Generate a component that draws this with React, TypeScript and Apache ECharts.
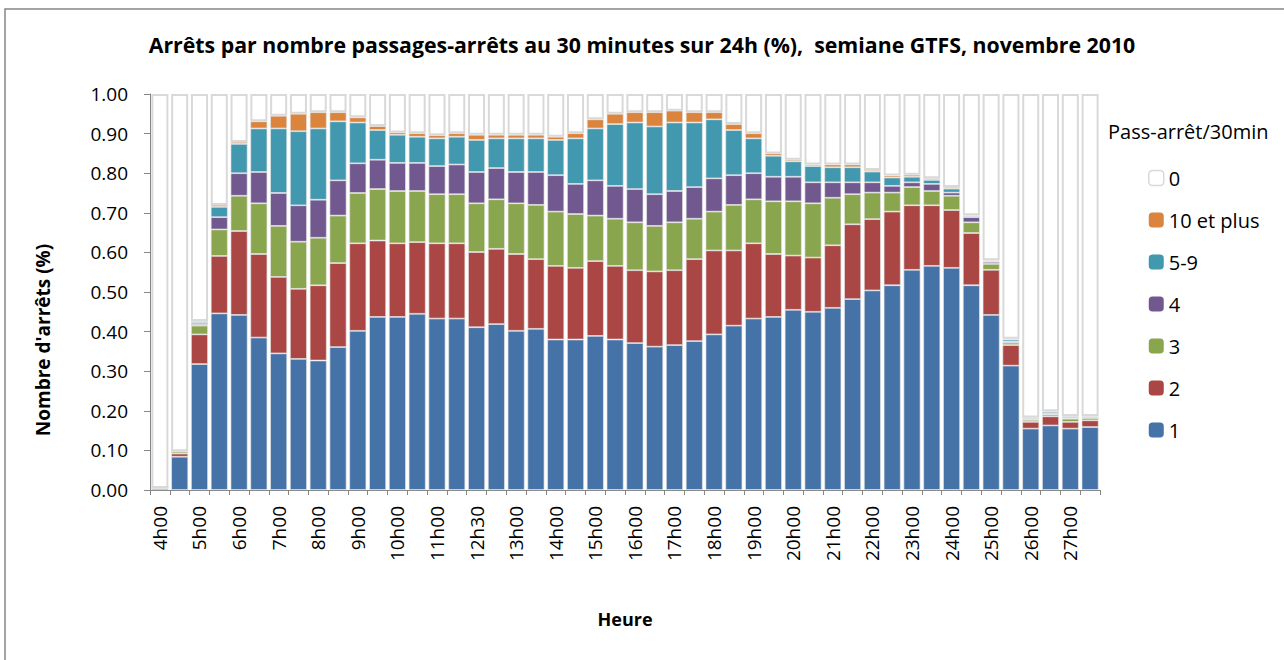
import React, { useEffect, useRef } from "react";
import * as echarts from "echarts";

const categories = [
  "4h00", "4h30", "5h00", "5h30", "6h00", "6h30", "7h00", "7h30", "8h00", "8h30",
  "9h00", "9h30", "10h00", "10h30", "11h00", "11h30", "12h30", "12h30", "13h00", "13h30",
  "14h00", "14h30", "15h00", "15h30", "16h00", "16h30", "17h00", "17h30", "18h00", "18h30",
  "19h00", "19h30", "20h00", "20h30", "21h00", "21h30", "22h00", "22h30", "23h00", "23h30",
  "24h00", "24h30", "25h00", "25h30", "26h00", "26h30", "27h00", "27h30",
];

const one = [0.005, 0.084, 0.318, 0.446, 0.442, 0.385, 0.345, 0.331, 0.327, 0.361,
  0.402, 0.437, 0.437, 0.445, 0.433, 0.433, 0.411, 0.419, 0.402, 0.407,
  0.380, 0.380, 0.389, 0.380, 0.371, 0.362, 0.366, 0.376, 0.393, 0.415,
  0.433, 0.437, 0.455, 0.450, 0.460, 0.482, 0.504, 0.517, 0.556, 0.566,
  0.561, 0.517, 0.442, 0.314, 0.155, 0.163, 0.155, 0.159];

const two = [0, 0.008, 0.075, 0.145, 0.212, 0.211, 0.193, 0.177, 0.190, 0.212,
  0.221, 0.193, 0.186, 0.181, 0.190, 0.190, 0.190, 0.190, 0.194, 0.176,
  0.186, 0.181, 0.189, 0.186, 0.184, 0.190, 0.189, 0.207, 0.212, 0.190,
  0.190, 0.159, 0.137, 0.137, 0.158, 0.189, 0.180, 0.186, 0.163, 0.153,
  0.146, 0.132, 0.114, 0.052, 0.017, 0.023, 0.017, 0.017];

const three = [0, 0.005, 0.022, 0.067, 0.089, 0.128, 0.129, 0.119, 0.120, 0.120,
  0.127, 0.130, 0.132, 0.129, 0.124, 0.124, 0.123, 0.125, 0.128, 0.137,
  0.137, 0.136, 0.115, 0.119, 0.121, 0.115, 0.121, 0.102, 0.098, 0.115,
  0.111, 0.133, 0.137, 0.137, 0.120, 0.076, 0.067, 0.048, 0.046, 0.036,
  0.036, 0.027, 0.015, 0.006, 0.005, 0.005, 0.008, 0.006];

const four = [0, 0, 0.004, 0.031, 0.057, 0.079, 0.083, 0.092, 0.096, 0.089,
  0.075, 0.074, 0.071, 0.071, 0.071, 0.075, 0.079, 0.079, 0.079, 0.083,
  0.092, 0.076, 0.089, 0.083, 0.084, 0.080, 0.079, 0.080, 0.084, 0.075,
  0.066, 0.062, 0.062, 0.053, 0.039, 0.030, 0.026, 0.017, 0.012, 0.018,
  0.008, 0.013, 0.005, 0.003, 0.002, 0.003, 0.002, 0.001];

const fiveNine = [0, 0.001, 0.005, 0.026, 0.074, 0.110, 0.163, 0.187, 0.180, 0.149,
  0.103, 0.075, 0.071, 0.066, 0.070, 0.070, 0.081, 0.075, 0.085, 0.085,
  0.089, 0.115, 0.131, 0.156, 0.168, 0.171, 0.173, 0.163, 0.149, 0.114,
  0.088, 0.053, 0.039, 0.041, 0.038, 0.038, 0.027, 0.021, 0.014, 0.010,
  0.010, 0.003, 0.002, 0.005, 0.003, 0.004, 0.004, 0.003];

const tenPlus = [0, 0, 0.003, 0.005, 0.005, 0.018, 0.032, 0.044, 0.041, 0.023,
  0.013, 0.010, 0.006, 0.009, 0.008, 0.009, 0.013, 0.009, 0.009, 0.009,
  0.008, 0.013, 0.023, 0.026, 0.026, 0.036, 0.030, 0.026, 0.018, 0.015,
  0.013, 0.006, 0.004, 0.004, 0.007, 0.007, 0.004, 0.005, 0.005, 0.004,
  0.004, 0.002, 0.002, 0.002, 0.001, 0.001, 0.001, 0.001];

const zero = [0.995, 0.902, 0.573, 0.280, 0.121, 0.069, 0.055, 0.050, 0.046, 0.046,
  0.059, 0.081, 0.097, 0.099, 0.104, 0.099, 0.103, 0.103, 0.103, 0.103,
  0.108, 0.099, 0.064, 0.050, 0.046, 0.046, 0.042, 0.046, 0.046, 0.076,
  0.099, 0.150, 0.166, 0.178, 0.178, 0.178, 0.192, 0.206, 0.204, 0.213,
  0.235, 0.306, 0.420, 0.618, 0.817, 0.801, 0.813, 0.813];

const seriesNames = ["1", "2", "3", "4", "5-9", "10 et plus", "0"];
const seriesColors = ["#4572A7", "#AA4643", "#89A54E", "#71588F", "#4198AF", "#DB843D", "#FFFFFF"];
const seriesData = [one, two, three, four, fiveNine, tenPlus, zero];
const legendOrder = ["0", "10 et plus", "5-9", "4", "3", "2", "1"];

const TITLE = "Arrêts par nombre passages-arrêts au 30 minutes sur 24h (%),  semiane GTFS, novembre 2010";
const FONT = "'Open Sans', 'DejaVu Sans', sans-serif";

export default function App() {
  const ref = useRef<HTMLDivElement>(null);
  useEffect(() => {
    if (!ref.current) return;
    const chart = echarts.init(ref.current, null, { renderer: "svg" });
    const series = seriesNames.map((name, i) => ({
      name,
      type: "bar",
      stack: "total",
      data: seriesData[i],
      barCategoryGap: "14%",
      itemStyle: name === "0"
        ? { color: "#FFFFFF", borderColor: "#d9d9d9", borderWidth: 2 }
        : { color: seriesColors[i], borderColor: "rgba(230,230,230,0.8)", borderWidth: 0.8 },
      emphasis: { disabled: true },
    }));
    chart.setOption({
      animation: false,
      backgroundColor: "#ffffff",
      title: {
        text: TITLE,
        left: "center",
        top: 29,
        textStyle: { fontFamily: FONT, fontWeight: "bold", fontSize: 21.3, color: "#000" },
      },
      legend: {
        orient: "vertical",
        left: 1143,
        top: 163,
        itemWidth: 15,
        itemHeight: 15,
        itemGap: 22,
        selectedMode: false,
        textStyle: { fontFamily: FONT, fontSize: 20, color: "#000" },
        data: legendOrder.map((n) => (n === "0"
          ? { name: n, itemStyle: { borderColor: "#d9d9d9", borderWidth: 1.5 } }
          : { name: n, itemStyle: { borderWidth: 0 } })),
      },
      grid: { left: 150, right: 184, top: 94, bottom: 170, containLabel: false },
      xAxis: {
        type: "category",
        data: categories,
        name: "Heure",
        nameLocation: "middle",
        nameGap: 120,
        nameTextStyle: { fontFamily: FONT, fontWeight: "bold", fontSize: 18, color: "#000" },
        axisLine: { lineStyle: { color: "#868686" } },
        axisTick: { show: true, length: 5, interval: 0, lineStyle: { color: "#868686" } },
        axisLabel: { interval: 1, rotate: 90, margin: 16, fontFamily: FONT, fontSize: 19, color: "#000" },
      },
      yAxis: {
        type: "value",
        min: 0,
        max: 1,
        interval: 0.1,
        splitLine: { show: false },
        axisLine: { show: true, lineStyle: { color: "#868686" } },
        axisTick: { show: true, length: 6, lineStyle: { color: "#868686" } },
        axisLabel: { margin: 22, fontFamily: FONT, fontSize: 19, color: "#000", formatter: (v: number) => v.toFixed(2) },
      },
      graphic: [
        {
          type: "rect",
          shape: { x: 5, y: 9, width: 1300, height: 700 },
          style: { fill: "transparent", stroke: "#868686", lineWidth: 1.5 },
          silent: true,
        },
        {
          type: "text",
          left: 1108,
          top: 121,
          style: { text: "Pass-arrêt/30min", fontFamily: FONT, fontSize: 20, fill: "#000" },
        },
        {
          type: "text",
          x: 43,
          y: 340,
          rotation: Math.PI / 2,
          style: {
            text: "Nombre d'arrêts (%)",
            fontFamily: FONT,
            fontWeight: "bold",
            fontSize: 19,
            fill: "#000",
            align: "center",
            verticalAlign: "middle",
          },
        },
      ],
      series,
    });
    return () => chart.dispose();
  }, []);
  return <div ref={ref} style={{ position: "absolute", left: 0, top: 0, width: 1284, height: 660 }} />;
}
